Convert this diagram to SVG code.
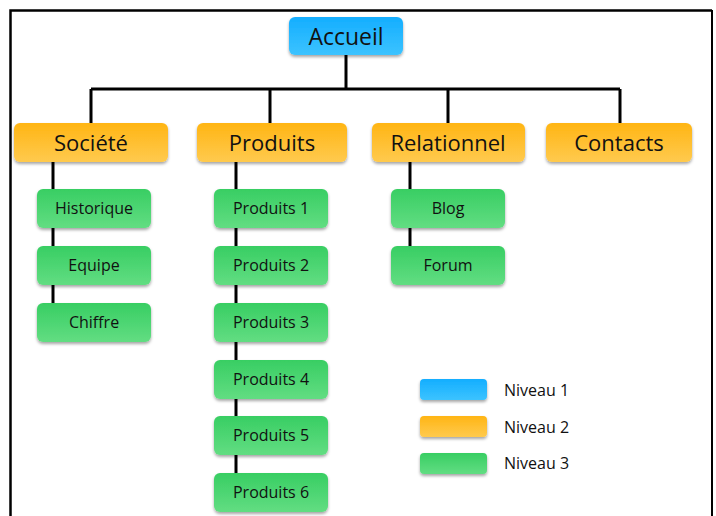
<svg xmlns="http://www.w3.org/2000/svg" width="716" height="516" viewBox="0 0 716 516">
<defs>
<linearGradient id="gBlue" x1="0" y1="0" x2="0" y2="1"><stop offset="0" stop-color="#14AEFF"/><stop offset="1" stop-color="#3CC3FF"/></linearGradient>
<linearGradient id="gOrange" x1="0" y1="0" x2="0" y2="1"><stop offset="0" stop-color="#FFB514"/><stop offset="1" stop-color="#FFCA4E"/></linearGradient>
<linearGradient id="gGreen" x1="0" y1="0" x2="0" y2="1"><stop offset="0" stop-color="#38CE63"/><stop offset="1" stop-color="#62DD82"/></linearGradient>
<filter id="sh" x="-10%" y="-20%" width="120%" height="150%"><feDropShadow dx="0" dy="2" stdDeviation="1.5" flood-color="#000" flood-opacity="0.35"/></filter>
<style>
.l1{fill:url(#gBlue);filter:url(#sh)}
.l2{fill:url(#gOrange);filter:url(#sh)}
.l3{fill:url(#gGreen);filter:url(#sh)}
text{font-family:"Open Sans","Liberation Sans",sans-serif;fill:#111;text-anchor:middle;dominant-baseline:central}
.t1{font-size:23px}
.t2{font-size:22px}
.t3{font-size:16px}
.tl{font-size:16px;text-anchor:start}
.ln{stroke:#000;stroke-width:3;fill:none}
</style>
</defs>
<rect x="0" y="0" width="716" height="516" fill="#fff"/>
<path d="M10.5 530 V10.5 H712" stroke="#000" stroke-width="2.5" fill="none"/>
<path d="M712 10 V530" stroke="#000" stroke-width="2" fill="none"/>
<g id="connectors" class="ln">
<path d="M346 55 V89"/>
<path d="M91 89 H620"/>
<path d="M91 89 V123 M270 89 V123 M448 89 V123 M620 89 V123"/>
<path d="M53 162 V338"/>
<path d="M236 162 V505"/>
<path d="M410 162 V280"/>
</g>
<g id="accueil"><rect class="l1" x="289" y="17" width="114" height="38" rx="6"/><text class="t1" x="346" y="36">Accueil</text></g>
<g id="societe"><rect class="l2" x="14" y="123" width="154" height="39" rx="6"/><text class="t2" x="91" y="142">Société</text></g>
<g id="produits"><rect class="l2" x="197" y="123" width="150" height="39" rx="6"/><text class="t2" x="272" y="142">Produits</text></g>
<g id="relationnel"><rect class="l2" x="372" y="123" width="153" height="39" rx="6"/><text class="t2" x="448" y="142">Relationnel</text></g>
<g id="contacts"><rect class="l2" x="546" y="123" width="146" height="39" rx="6"/><text class="t2" x="619" y="142">Contacts</text></g>
<g id="historique"><rect class="l3" x="37" y="189" width="114" height="39" rx="6"/><text class="t3" x="94" y="208">Historique</text></g>
<g id="equipe"><rect class="l3" x="37" y="246" width="114" height="39" rx="6"/><text class="t3" x="94" y="265">Equipe</text></g>
<g id="chiffre"><rect class="l3" x="37" y="303" width="114" height="39" rx="6"/><text class="t3" x="94" y="322">Chiffre</text></g>
<g id="produits1"><rect class="l3" x="214" y="189" width="114" height="39" rx="6"/><text class="t3" x="271" y="208">Produits 1</text></g>
<g id="produits2"><rect class="l3" x="214" y="246" width="114" height="39" rx="6"/><text class="t3" x="271" y="265">Produits 2</text></g>
<g id="produits3"><rect class="l3" x="214" y="303" width="114" height="39" rx="6"/><text class="t3" x="271" y="322">Produits 3</text></g>
<g id="produits4"><rect class="l3" x="214" y="360" width="114" height="39" rx="6"/><text class="t3" x="271" y="379">Produits 4</text></g>
<g id="produits5"><rect class="l3" x="214" y="416" width="114" height="39" rx="6"/><text class="t3" x="271" y="435">Produits 5</text></g>
<g id="produits6"><rect class="l3" x="214" y="473" width="114" height="39" rx="6"/><text class="t3" x="271" y="492">Produits 6</text></g>
<g id="blog"><rect class="l3" x="391" y="189" width="114" height="39" rx="6"/><text class="t3" x="448" y="208">Blog</text></g>
<g id="forum"><rect class="l3" x="391" y="246" width="114" height="39" rx="6"/><text class="t3" x="448" y="265">Forum</text></g>
<g id="legend">
<rect class="l1" x="420" y="379" width="67" height="21" rx="4"/><text class="tl" x="504" y="390">Niveau 1</text>
<rect class="l2" x="420" y="416" width="67" height="21" rx="4"/><text class="tl" x="504" y="427">Niveau 2</text>
<rect class="l3" x="420" y="453" width="67" height="21" rx="4"/><text class="tl" x="504" y="463">Niveau 3</text>
</g>
</svg>
